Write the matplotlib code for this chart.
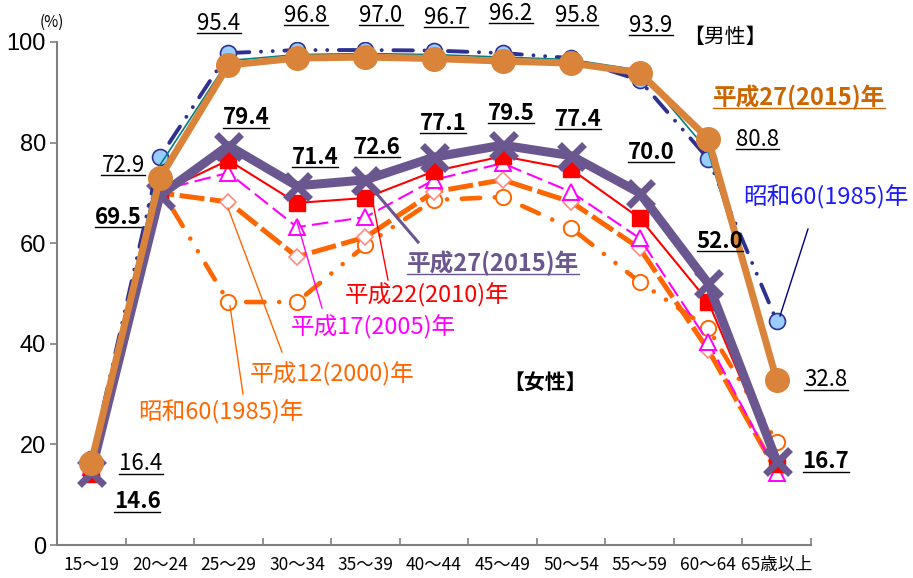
import numpy as np
import matplotlib
matplotlib.use('Agg')
import matplotlib.pyplot as plt
from matplotlib.lines import Line2D

# ---------------- data ----------------
categories = ['15～19', '20～24', '25～29', '30～34', '35～39', '40～44',
              '45～49', '50～54', '55～59', '60～64', '65歳以上']
yticks = [0, 20, 40, 60, 80, 100]

male_2015 = [16.4, 72.9, 95.4, 96.8, 97.0, 96.7, 96.2, 95.8, 93.9, 80.8, 32.8]
male_1985 = [17.0, 77.1, 97.8, 98.4, 98.4, 98.3, 97.8, 96.8, 92.4, 76.8, 44.5]
male_other = [16.8, 75.5, 96.3, 97.5, 97.7, 97.5, 97.0, 96.5, 94.4, 78.3, 33.5]

female_2015 = [14.6, 69.5, 79.4, 71.4, 72.6, 77.1, 79.5, 77.4, 70.0, 52.0, 16.7]
female_2010 = [14.2, 70.0, 76.5, 68.0, 69.0, 74.3, 77.3, 74.7, 65.0, 48.4, 16.2]
female_2005 = [15.5, 70.5, 74.0, 63.2, 65.2, 72.6, 75.9, 70.2, 61.0, 40.4, 14.4]
female_2000 = [15.0, 70.0, 68.2, 57.3, 61.2, 70.2, 72.6, 68.2, 59.0, 38.8, 14.6]
female_1985 = [15.8, 71.0, 48.3, 48.3, 59.6, 68.6, 69.2, 63.0, 52.3, 43.1, 20.5]

# ---------------- style ----------------
plt.rcParams['font.family'] = ['Noto Sans CJK JP', 'DejaVu Sans']
W, H = 913, 578
fig = plt.figure(figsize=(W / 100, H / 100), dpi=100)
ax = fig.add_axes([57 / W, 1 - 545 / H, (811 - 57) / W, (545 - 42) / H])

x = np.arange(len(categories))

C_M15 = '#D9843A'
C_M85 = '#2E3192'
C_F15 = '#6B578F'
C_ORG = '#FF6600'

# female series
ax.plot(x, female_1985, color=C_ORG, lw=3.3, dashes=(4, 3.2, 0.01, 3.2, 0.01, 3.2),
        dash_capstyle='round', marker='o', ms=11, mfc='white', mec=C_ORG, mew=1.4, zorder=2)
ax.plot(x, female_2000, color=C_ORG, lw=3.6, dashes=(5, 1.1),
        marker='D', ms=8.5, mfc='white', mec='#FF8A80', mew=1.2, zorder=3)
ax.plot(x, female_2005, color='#FF00FF', lw=1.5, dashes=(8, 3),
        marker='^', ms=11, mfc='white', mec='#FF00FF', mew=1.4, zorder=4)
ax.plot(x, female_2010, color='#FF0000', lw=1.5,
        marker='s', ms=11.5, mfc='#FF0000', mec='#FF0000', zorder=5)
ax.plot(x, female_2015, color=C_F15, lw=6.5,
        marker='x', ms=18, mew=5, mec=C_F15, zorder=6)

# male series
ax.plot(x, male_1985, color=C_M85, lw=2.8, dashes=(5, 3, 0.01, 3, 0.01, 3),
        dash_capstyle='round', marker='o', ms=11.5, mfc='#99CCFF', mec=C_M85, mew=1.2, zorder=7)
ax.plot(x, male_other, color='#008080', lw=1.2, zorder=8)
ax.plot(x, male_2015, color=C_M15, lw=5, marker='o', ms=17, mfc=C_M15, mec=C_M15, zorder=9)

# axes
ax.set_xlim(-0.5, len(categories) - 0.5)
ax.set_ylim(0, 100)
ax.set_xticks(np.arange(-0.5, len(categories), 1))
ax.set_xticklabels([])
ax.set_xticks(x, minor=True)
ax.set_xticklabels(categories, minor=True, fontsize=12.5)
ax.tick_params(axis='x', which='major', direction='in', length=5, color='#808080', width=1.2)
ax.tick_params(axis='x', which='minor', length=0, pad=8)
ax.set_yticks(yticks)
ax.set_yticklabels([str(v) for v in yticks],
                   fontfamily=['Liberation Sans Narrow', 'Liberation Sans'], fontsize=17)
ax.tick_params(axis='y', direction='out', length=5, color='#808080', width=1.2, pad=3)
for s in ['top', 'right']:
    ax.spines[s].set_visible(False)
for s in ['left', 'bottom']:
    ax.spines[s].set_color('#808080')
    ax.spines[s].set_linewidth(1.5)


def ftext(px, py, s, **kw):
    return fig.text(px / W, 1 - py / H, s, ha='center', va='center', **kw)


def leader(x1, y1, x2, y2, color, lw=1.0):
    fig.add_artist(Line2D([x1 / W, x2 / W], [1 - y1 / H, 1 - y2 / H],
                          transform=fig.transFigure, color=color, lw=lw, zorder=20))


underlined = []

# male 2015 labels
male_pos = [(141, 464), (123, 166), (219, 23), (306, 15), (381, 15), (446, 17),
            (511, 13), (577, 15), (651, 25), (757, 140), (826, 380)]
for (px, py), v in zip(male_pos, male_2015):
    underlined.append((ftext(px, py, f'{v:.1f}', fontsize=16, color='black'), 'black'))

# female 2015 labels
fem_pos = [(137, 502), (118, 217), (246, 118), (315, 157), (377, 147), (443, 123),
           (511, 113), (578, 120), (651, 153), (720, 242), (826, 462)]
for (px, py), v in zip(fem_pos, female_2015):
    underlined.append((ftext(px, py, f'{v:.1f}', fontsize=16, color='black',
                             fontweight='bold'), 'black'))

# legend-like annotations
ftext(52, 22, '(%)', fontsize=11)
ftext(725, 37, '【男性】', fontsize=15)
ftext(545, 382, '【女性】', fontsize=15, fontweight='bold')

t = ftext(799, 97, '平成27(2015)年', fontsize=17, color='#CC6600', fontweight='bold')
underlined.append((t, '#CC6600'))
ftext(826, 197, '昭和60(1985)年', fontsize=17, color='#1A1AFF')
leader(808, 229, 780, 316, '#000080')

t = ftext(493, 263, '平成27(2015)年', fontsize=17, color=C_F15, fontweight='bold')
underlined.append((t, C_F15))
leader(365, 180, 418, 242, C_F15, lw=2.2)

ftext(427, 295, '平成22(2010)年', fontsize=17, color='#FF0000')
leader(373, 203, 388, 280, '#FF0000')

ftext(373, 327, '平成17(2005)年', fontsize=17, color='#FF00FF')
leader(297, 222, 322, 308, '#FF00FF')

ftext(332, 374, '平成12(2000)年', fontsize=17, color=C_ORG)
leader(228, 208, 282, 352, C_ORG)

ftext(221, 412, '昭和60(1985)年', fontsize=17, color=C_ORG)
leader(230, 306, 243, 394, C_ORG)

# underlines
fig.canvas.draw()
renderer = fig.canvas.get_renderer()
inv = fig.transFigure.inverted()
for txt, col in underlined:
    bb = txt.get_window_extent(renderer)
    (x0, y0) = inv.transform((bb.x0, bb.y0 + 2))
    (x1, _) = inv.transform((bb.x1, bb.y0 + 2))
    fig.add_artist(Line2D([x0, x1], [y0, y0], transform=fig.transFigure,
                          color=col, lw=1.0, zorder=20))

fig.savefig('out.png', dpi=100)
